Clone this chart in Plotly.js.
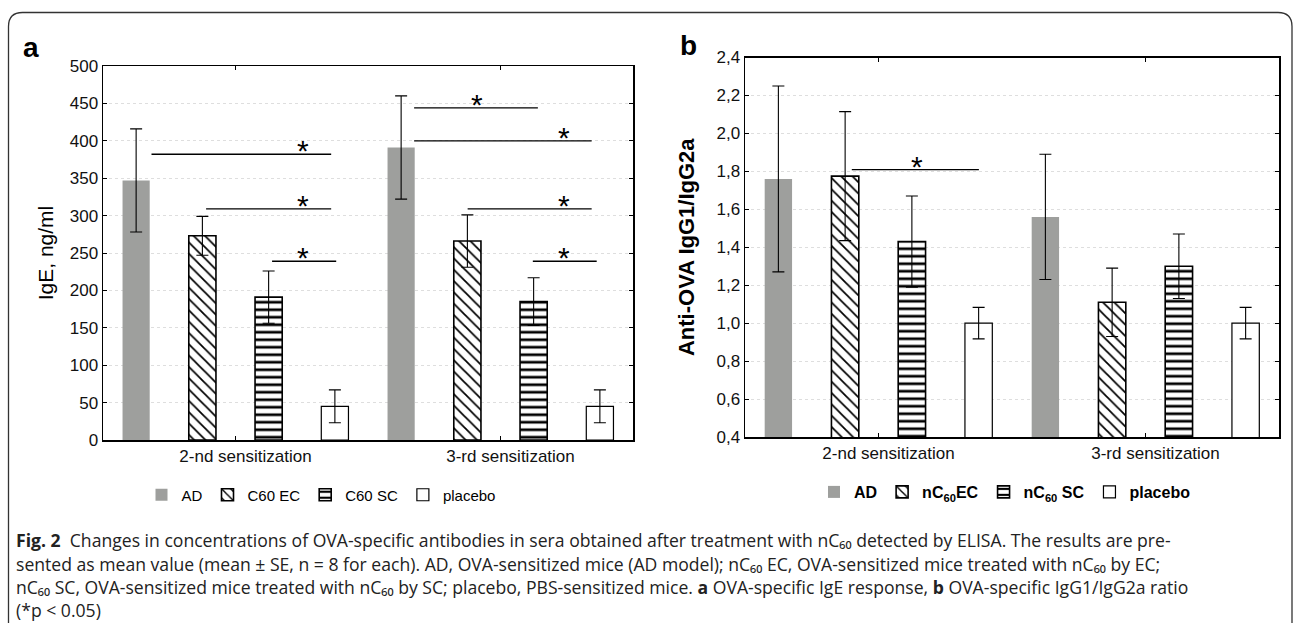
<!DOCTYPE html>
<html>
<head>
<meta charset="utf-8">
<script src="https://cdn.plot.ly/plotly-3.0.1.min.js"></script>
<style>
html,body{margin:0;padding:0;background:#fff;}
#chart{width:1295px;height:623px;}
</style>
</head>
<body>
<div id="chart"></div>
<script>
// ---------- data ----------
const categories = ["2-nd sensitization", "3-rd sensitization"];

// Panel a: IgE, ng/ml (mean, SE)
const igeAD = [347, 391];
const igeADse = [69, 69];
const igeEC = [273, 266];
const igeECse = [26, 35];
const igeSC = [191, 185];
const igeSCse = [35, 32];
const igePlacebo = [45, 45];
const igePlaceboSe = [22, 22];

// Panel b: Anti-OVA IgG1/IgG2a (mean, SE)
const ratioAD = [1.76, 1.56];
const ratioADse = [0.49, 0.33];
const ratioEC = [1.775, 1.11];
const ratioECse = [0.34, 0.18];
const ratioSC = [1.43, 1.30];
const ratioSCse = [0.24, 0.17];
const ratioPlacebo = [1.0, 1.0];
const ratioPlaceboSe = [0.083, 0.083];

const legendNamesA = ["AD", "C60 EC", "C60 SC", "placebo"];
const legendNamesB = ["AD", "nC<sub>60</sub>EC", "nC<sub>60</sub> SC", "placebo"];

// significance brackets (x in category units, y in data units)
const sigA = [
  {x0: -0.317, x1: 0.361, y: 382, star: 0.253},
  {x0: -0.111, x1: 0.361, y: 309, star: 0.253},
  {x0: 0.138, x1: 0.380, y: 239, star: 0.253},
  {x0: 0.674, x1: 1.141, y: 444, star: 0.911},
  {x0: 0.674, x1: 1.344, y: 400, star: 1.241},
  {x0: 0.876, x1: 1.344, y: 309, star: 1.241},
  {x0: 1.122, x1: 1.363, y: 239, star: 1.241}
];
const sigB = [
  {x0: -0.100, x1: 0.376, y: 1.809, star: 0.146}
];

const captionLines = [
  "<b>Fig. 2</b>  Changes in concentrations of OVA-specific antibodies in sera obtained after treatment with nC₆₀ detected by ELISA. The results are pre-",
  "sented as mean value (mean ± SE, n = 8 for each). AD, OVA-sensitized mice (AD model); nC₆₀ EC, OVA-sensitized mice treated with nC₆₀ by EC;",
  "nC₆₀ SC, OVA-sensitized mice treated with nC₆₀ by SC; placebo, PBS-sensitized mice. <b>a</b> OVA-specific IgE response, <b>b</b> OVA-specific IgG1/IgG2a ratio",
  "(*p &lt; 0.05)"
];

// ---------- layout helpers ----------
const W = 1295, H = 623;
const px = x => x / W;
const py = y => 1 - y / H;
const FONT = "Liberation Sans, Arial, sans-serif";

const styles = [
  {color: "#9e9f9d", line: {color: "#9e9f9d", width: 0}},
  {color: "white", line: {color: "black", width: 1.6}, pattern: {shape: "\\", fgcolor: "black", bgcolor: "white", size: 8, solidity: 0.22}},
  {color: "white", line: {color: "black", width: 1.6}, pattern: {shape: "-", fgcolor: "black", bgcolor: "white", size: 7.5, solidity: 0.36}},
  {color: "white", line: {color: "black", width: 1.2}}
];

function mkBar(y, se, i, name, xa, ya, leg) {
  return {
    type: "bar", x: categories, y: y, name: name,
    xaxis: xa, yaxis: ya, legend: leg,
    marker: styles[i],
    error_y: {type: "data", array: se, visible: true, color: "black", thickness: 1.1, width: 6},
    hoverinfo: "skip"
  };
}

const traces = [
  mkBar(igeAD, igeADse, 0, legendNamesA[0], "x", "y", "legend"),
  mkBar(igeEC, igeECse, 1, legendNamesA[1], "x", "y", "legend"),
  mkBar(igeSC, igeSCse, 2, legendNamesA[2], "x", "y", "legend"),
  mkBar(igePlacebo, igePlaceboSe, 3, legendNamesA[3], "x", "y", "legend"),
  mkBar(ratioAD, ratioADse, 0, legendNamesB[0], "x2", "y2", "legend2"),
  mkBar(ratioEC, ratioECse, 1, legendNamesB[1], "x2", "y2", "legend2"),
  mkBar(ratioSC, ratioSCse, 2, legendNamesB[2], "x2", "y2", "legend2"),
  mkBar(ratioPlacebo, ratioPlaceboSe, 3, legendNamesB[3], "x2", "y2", "legend2")
];

const xBase = {
  type: "category", range: [-0.5, 1.5], showline: true, linecolor: "black", linewidth: 1.5,
  mirror: "ticks", ticks: "inside", ticklen: 4, tickcolor: "black", showgrid: false,
  tickfont: {family: FONT, size: 17, color: "#111"}, ticklabelshift: 10, fixedrange: true
};
const yBase = {
  showline: true, linecolor: "black", linewidth: 1.5, mirror: "ticks", ticks: "inside",
  ticklen: 4, tickcolor: "black", showgrid: true, gridcolor: "#dedede", griddash: "dot",
  gridwidth: 1, zeroline: false, tickfont: {family: FONT, size: 17, color: "#111"}, fixedrange: true
};

const shapes = [];
const annotations = [];

function addSig(list, xref, yref) {
  list.forEach(s => {
    shapes.push({type: "line", xref: xref, yref: yref, x0: s.x0, x1: s.x1, y0: s.y, y1: s.y,
      line: {color: "black", width: 1.3}});
    annotations.push({xref: xref, yref: yref, x: s.star, y: s.y, text: "*", showarrow: false,
      yanchor: "bottom", yshift: -15, font: {family: FONT, size: 30, color: "black"}});
  });
}
addSig(sigA, "x", "y");
addSig(sigB, "x2", "y2");

// outer rounded frame
(function () {
  const r = 14, x0 = 8.5, x1 = 1292, y0 = 12.5, yb = 660;
  const path = `M ${px(x0)},${py(yb)} L ${px(x0)},${py(y0 + r)} Q ${px(x0)},${py(y0)} ${px(x0 + r)},${py(y0)} ` +
    `L ${px(x1 - r)},${py(y0)} Q ${px(x1)},${py(y0)} ${px(x1)},${py(y0 + r)} L ${px(x1)},${py(yb)}`;
  shapes.push({type: "path", xref: "paper", yref: "paper", path: path, line: {color: "#333", width: 1.3}});
})();

// panel letters
annotations.push({xref: "paper", yref: "paper", x: px(31), y: py(48), text: "<b>a</b>", showarrow: false,
  xanchor: "center", yanchor: "middle", font: {family: FONT, size: 28, color: "black"}});
annotations.push({xref: "paper", yref: "paper", x: px(688), y: py(45), text: "<b>b</b>", showarrow: false,
  xanchor: "center", yanchor: "middle", font: {family: FONT, size: 28, color: "black"}});

// caption
const capY = [540, 563.5, 587, 609.5];
captionLines.forEach((t, i) => {
  annotations.push({xref: "paper", yref: "paper", x: px(14), y: py(capY[i]), text: t, showarrow: false,
    xanchor: "left", yanchor: "middle", align: "left", font: {family: "Open Sans, Noto Sans, DejaVu Sans, sans-serif", size: 17.6, color: "#222"}});
});

const layout = {
  width: W, height: H,
  margin: {l: 0, r: 0, t: 0, b: 0, pad: 0},
  paper_bgcolor: "white", plot_bgcolor: "white",
  separators: ", ",
  barmode: "group", bargap: 0, bargroupgap: 0.59,
  font: {family: FONT, color: "black"},
  xaxis: Object.assign({}, xBase, {domain: [px(103), px(633)], anchor: "y"}),
  yaxis: Object.assign({}, yBase, {domain: [py(440), py(66)], anchor: "x", range: [0, 500], dtick: 50,
    title: {text: "IgE, ng/ml", font: {family: FONT, size: 21, color: "black"}, standoff: 10}}),
  xaxis2: Object.assign({}, xBase, {domain: [px(745), px(1279)], anchor: "y2"}),
  yaxis2: Object.assign({}, yBase, {domain: [py(437), py(57.5)], anchor: "x2", range: [0.4, 2.4], dtick: 0.2,
    tickformat: ".1f",
    title: {text: "Anti-OVA IgG1/IgG2a", font: {family: FONT, size: 22, color: "black", weight: "bold"}, standoff: 16}}),
  legend: {orientation: "h", x: px(321), xanchor: "center", y: py(495), yanchor: "middle",
    font: {family: FONT, size: 15, color: "black"}, itemwidth: 30, traceorder: "normal", bgcolor: "rgba(0,0,0,0)"},
  legend2: {orientation: "h", x: px(1005), xanchor: "center", y: py(492), yanchor: "middle",
    font: {family: FONT, size: 16, color: "black", weight: "bold"}, itemwidth: 30, traceorder: "normal", bgcolor: "rgba(0,0,0,0)"},
  shapes: shapes,
  annotations: annotations,
  showlegend: true
};

Plotly.newPlot("chart", traces, layout, {displayModeBar: false, staticPlot: true});
</script>
</body>
</html>
